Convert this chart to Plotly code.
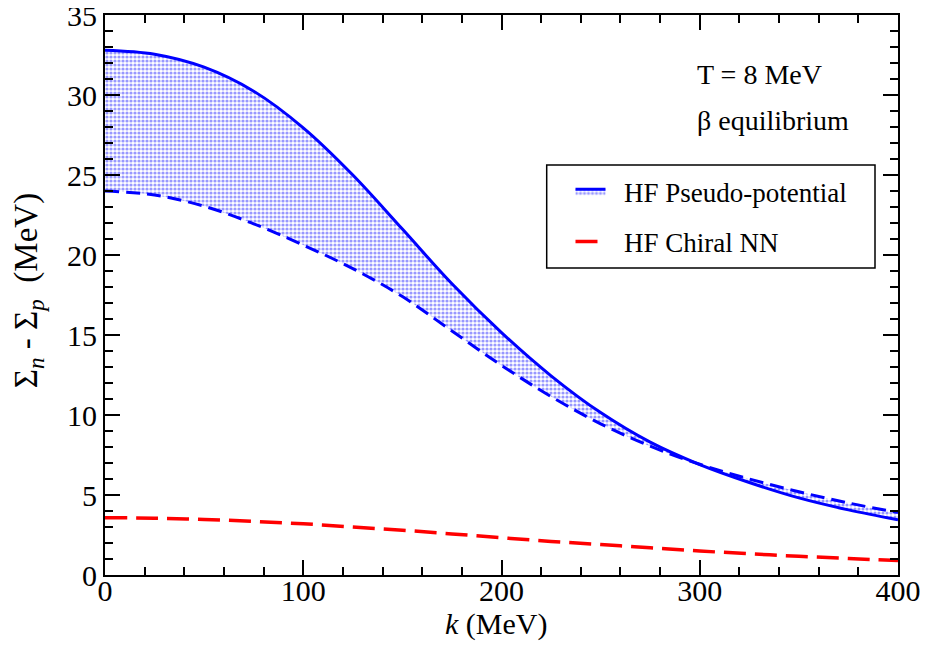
import plotly.graph_objects as go

k = [0, 25, 50, 75, 100, 125, 150, 175, 200, 225, 250, 275, 300, 325, 350, 375, 400]
pseudo_upper = [32.8, 32.55, 31.74, 30.24, 27.95, 25.0, 21.62, 18.2, 15.15, 12.45, 10.15, 8.3, 6.9, 5.78, 4.82, 4.07, 3.45]
pseudo_lower = [24.0, 23.75, 23.05, 21.95, 20.62, 19.15, 17.4, 15.25, 13.1, 11.15, 9.45, 8.05, 6.92, 6.0, 5.2, 4.5, 3.9]
chiral = [3.58, 3.55, 3.47, 3.35, 3.2, 3.0, 2.8, 2.57, 2.33, 2.1, 1.9, 1.7, 1.5, 1.33, 1.17, 1.03, 0.9]

FONT = "Liberation Serif"
BLUE = "#0000ff"
RED = "#ff0000"
NB = "\u00a0"

fig = go.Figure()
fig.add_trace(go.Scatter(
    x=k, y=pseudo_lower, mode="lines", line=dict(color=BLUE, width=3, dash="14px,7px", shape="spline"),
    showlegend=False, hoverinfo="skip"))
fig.add_trace(go.Scatter(
    x=k, y=pseudo_upper, mode="lines", name=NB * 2 + "HF Pseudo-potential",
    line=dict(color=BLUE, width=3, shape="spline"),
    fill="tonexty", fillcolor="rgba(0,0,0,0)",
    fillpattern=dict(shape=".", fgcolor="rgb(50,50,255)", bgcolor="white", size=4, solidity=0.5),
    legendgroup="a"))
fig.add_trace(go.Scatter(
    x=k, y=chiral, mode="lines", name=NB * 2 + "HF Chiral NN",
    line=dict(color=RED, width=3.5, dash="22px,9px", shape="spline"),
    legendgroup="b"))

axis_common = dict(
    showline=True, linecolor="black", linewidth=2, mirror="allticks",
    ticks="inside", ticklen=15, tickwidth=1.5, tickcolor="black",
    showgrid=False, zeroline=False, automargin=False, ticklabeloverflow="allow",
    tickfont=dict(family=FONT, size=30, color="black"),
)

fig.update_xaxes(range=[0, 400], dtick=100, tick0=0, ticklabelstandoff=-12,
                 minor=dict(ticks="inside", dtick=20, ticklen=8, tickwidth=1.5, tickcolor="black"),
                 **axis_common)
fig.update_yaxes(range=[0, 35], dtick=5, tick0=0,
                 minor=dict(ticks="inside", dtick=1, ticklen=8, tickwidth=1.5, tickcolor="black"),
                 **axis_common)

# axis titles
fig.add_annotation(x=0.493, y=-0.0875, xref="paper", yref="paper", text="<i>k</i> (MeV)",
                   showarrow=False, xanchor="center", yanchor="middle",
                   font=dict(family=FONT, size=30, color="black"))
fig.add_annotation(x=-0.097, y=0.507, xref="paper", yref="paper",
                   text="Σ<sub><i>n</i></sub> - Σ<sub><i>p</i></sub>  (MeV)", textangle=-90,
                   showarrow=False, xanchor="center", yanchor="middle",
                   font=dict(family=FONT, size=33, color="black"))

fig.add_annotation(x=0.744, y=0.893, xref="paper", yref="paper", text="T = 8 MeV",
                   showarrow=False, xanchor="left", yanchor="middle",
                   font=dict(family=FONT, size=28, color="black"))
fig.add_annotation(x=0.744, y=0.812, xref="paper", yref="paper", text="β equilibrium",
                   showarrow=False, xanchor="left", yanchor="middle",
                   font=dict(family=FONT, size=28, color="black"))

# legend frame
fig.add_shape(type="rect", xref="paper", yref="paper", x0=0.557, x1=0.971, y0=0.548, y1=0.732,
              line=dict(color="black", width=1.5), fillcolor="white", layer="above")

fig.update_layout(
    width=917, height=633,
    margin=dict(l=97, r=27, t=7, b=66),
    paper_bgcolor="white", plot_bgcolor="white",
    font=dict(family=FONT, color="black"),
    legend=dict(x=0.587, y=0.728, xanchor="left", yanchor="top",
                borderwidth=0, bgcolor="rgba(0,0,0,0)",
                font=dict(family=FONT, size=27, color="black"),
                tracegroupgap=12, traceorder="grouped"),
)

fig.write_html("out.html")
